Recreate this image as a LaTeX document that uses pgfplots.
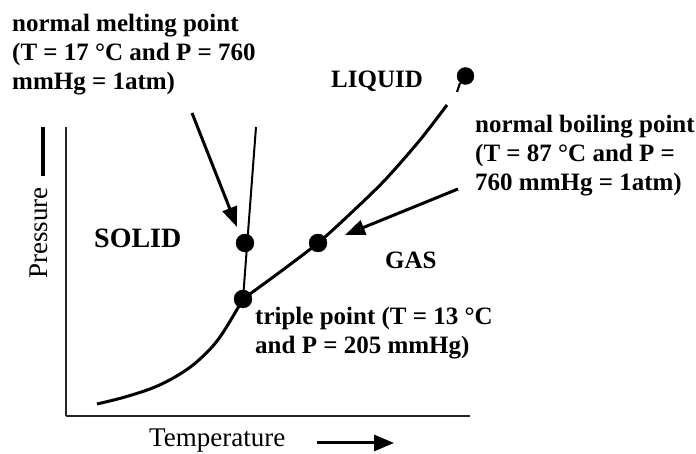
\documentclass[border=0pt]{standalone}
\usepackage{pgfplots}
\pgfplotsset{compat=1.18}
\usepackage{fontspec}
\setmainfont{Liberation Serif}
\usetikzlibrary{arrows.meta}
\newcommand{\bt}{\fontsize{25}{29}\selectfont\bfseries}
\newcommand{\rt}{\fontsize{27}{32}\selectfont}
\begin{document}
\begin{tikzpicture}
\begin{axis}[
  width=404pt, height=289pt, scale only axis,
  xmin=66, xmax=470, ymin=38, ymax=327,
  axis x line*=bottom, axis y line*=left,
  axis line style={-, line width=1.3pt, black!85},
  xtick=\empty, ytick=\empty,
  clip=false,
]
% sublimation curve
\addplot[line width=3pt, smooth, tension=0.6] coordinates {
(97,50) (125,57) (155,67) (180,80) (200,95) (220,117) (243,155)};
% vaporization curve
\addplot[line width=3pt, smooth, tension=0.5] coordinates {
(243,155) (280,182) (318,211) (350,240) (385,274) (420,314) (447,349)};
% melting line
\addplot[line width=2pt] coordinates {(243,155) (256,327)};
% points
\addplot[only marks, mark=*, mark size=9pt, black] coordinates {(243,155) (245,211) (318,211)};
\addplot[only marks, mark=*, mark size=8.5pt, black] coordinates {(465.5,378)};
\addplot[line width=2.2pt] coordinates {(460,371) (457,362)};
% arrows
\draw[line width=3pt, -{Triangle[length=20pt,width=15pt]}] (axis cs:192,341) -- (axis cs:237,227);
\draw[line width=3pt, -{Triangle[length=20pt,width=15pt]}] (axis cs:458,265) -- (axis cs:345,219);
\draw[line width=3pt, -{Triangle[length=20pt,width=16pt]}] (axis cs:317,11) -- (axis cs:394,11);
\draw[line width=3.2pt] (axis cs:43,327) -- (axis cs:43,278);
% texts
\node[anchor=base west, inner sep=0pt] at (axis cs:12,422) {\bt normal melting point};
\node[anchor=base west, inner sep=0pt] at (axis cs:12,393) {\bt (T = 17 °C and P = 760};
\node[anchor=base west, inner sep=0pt] at (axis cs:12,364) {\bt mmHg = 1atm)};
\node[anchor=base west, inner sep=0pt] at (axis cs:475,321) {\bt normal boiling point};
\node[anchor=base west, inner sep=0pt] at (axis cs:475,292) {\bt (T = 87 °C and P =};
\node[anchor=base west, inner sep=0pt] at (axis cs:475,263) {\bt 760 mmHg = 1atm)};
\node[anchor=base west, inner sep=0pt] at (axis cs:255,129) {\bt triple point (T = 13 °C};
\node[anchor=base west, inner sep=0pt] at (axis cs:255,100) {\bt and P = 205 mmHg)};
\node[anchor=base west, inner sep=0pt] at (axis cs:331,366) {\bt LIQUID};
\node[anchor=base west, inner sep=0pt] at (axis cs:94,206) {\fontsize{28}{32}\selectfont\bfseries SOLID};
\node[anchor=base west, inner sep=0pt] at (axis cs:385,185) {\bt GAS};
\node[anchor=base west, inner sep=0pt] at (axis cs:149,7) {\rt Temperature};
\node[anchor=base, rotate=90, inner sep=0pt] at (axis cs:48,221) {\rt Pressure};
\coordinate (BL) at (axis cs:0,0);
\coordinate (TR) at (axis cs:696,454);
\end{axis}
\pgfresetboundingbox
\path[use as bounding box] (BL) rectangle (TR);
\end{tikzpicture}
\end{document}
